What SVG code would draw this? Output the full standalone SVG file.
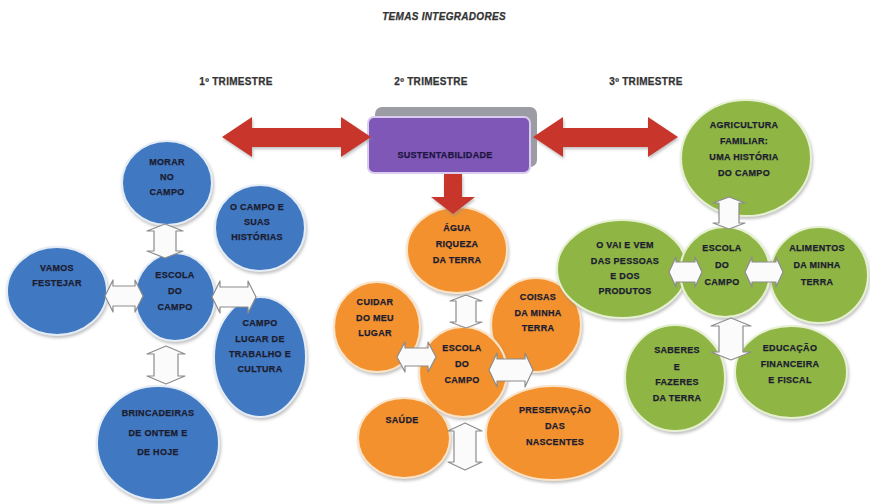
<svg xmlns="http://www.w3.org/2000/svg" width="870" height="504" viewBox="0 0 870 504">
<defs>
<filter id="sh" x="-20%" y="-20%" width="140%" height="140%">
<feDropShadow dx="1" dy="2" stdDeviation="1.5" flood-color="#8a8a8a" flood-opacity="0.55"/>
</filter>
<style>
text{font-family:"Liberation Sans",Arial,sans-serif;font-weight:bold;font-size:9px;letter-spacing:0.3px;fill:#1c1c30;stroke:#1c1c30;stroke-width:0.25;text-anchor:middle}
.ttl{font-size:10px;font-style:italic;fill:#333;stroke:#333}
.tri{font-size:10px;fill:#333;stroke:#333}
.blue{fill:#3f78c1;stroke:#e4ecf6;stroke-width:2;filter:url(#sh)}
.orange{fill:#f2912e;stroke:#fbe3c8;stroke-width:2;filter:url(#sh)}
.green{fill:#8fb544;stroke:#e6f0d2;stroke-width:2;filter:url(#sh)}
.red{fill:#c8342c;filter:url(#sh)}
.hollow{fill:#fbfbfb;stroke:#8c8c8c;stroke-width:1.2;stroke-linejoin:round}
</style>
</defs>
<rect width="870" height="504" fill="#ffffff"/>
<text class="ttl" x="444" y="20">TEMAS INTEGRADORES</text>
<text class="tri" x="236" y="85">1º TRIMESTRE</text>
<text class="tri" x="431" y="85">2º TRIMESTRE</text>
<text class="tri" x="646" y="85">3º TRIMESTRE</text>

<g id="sustentabilidade">
<rect x="375" y="107" width="162" height="60" rx="7" fill="#9c9ca4"/>
<rect x="368" y="117" width="162" height="56" rx="6" fill="#7f58b7" stroke="#d9ccee" stroke-width="2"/>
<text x="445" y="158" style="fill:#1e1440;stroke:#1e1440">SUSTENTABILIDADE</text>
</g>

<g id="blue-nodes">
<g id="morar"><ellipse class="blue" cx="167" cy="183" rx="45" ry="42"/><text x="167" y="165">MORAR</text><text x="167" y="180">NO</text><text x="167" y="195">CAMPO</text></g>
<g id="campo-historias"><ellipse class="blue" cx="260" cy="228" rx="45" ry="43"/><text x="257" y="210">O CAMPO E</text><text x="257" y="225">SUAS</text><text x="257" y="240">HISTÓRIAS</text></g>
<g id="vamos"><ellipse class="blue" cx="57" cy="291" rx="50" ry="44"/><text x="57" y="271">VAMOS</text><text x="57" y="286">FESTEJAR</text></g>
<g id="campo-lugar"><ellipse class="blue" cx="260" cy="357" rx="46" ry="60"/><text x="260" y="326">CAMPO</text><text x="260" y="342">LUGAR DE</text><text x="260" y="357">TRABALHO E</text><text x="260" y="372">CULTURA</text></g>
<g id="brincadeiras"><ellipse class="blue" cx="158" cy="443" rx="61" ry="57"/><text x="158" y="416">BRINCADEIRAS</text><text x="158" y="436">DE ONTEM E</text><text x="158" y="455">DE HOJE</text></g>
<g id="escola-blue"><ellipse class="blue" cx="175" cy="297" rx="40" ry="44"/><text x="175" y="278">ESCOLA</text><text x="175" y="294">DO</text><text x="175" y="310">CAMPO</text></g>
</g>

<g id="orange-nodes">
<g id="agua"><ellipse class="orange" cx="457" cy="250" rx="50" ry="43"/><text x="457" y="231">ÁGUA</text><text x="457" y="247">RIQUEZA</text><text x="457" y="263">DA TERRA</text></g>
<g id="cuidar"><ellipse class="orange" cx="377" cy="327" rx="43" ry="45"/><text x="375" y="305">CUIDAR</text><text x="375" y="321">DO MEU</text><text x="375" y="336">LUGAR</text></g>
<g id="coisas"><ellipse class="orange" cx="536" cy="325" rx="45" ry="47"/><text x="538" y="300">COISAS</text><text x="538" y="316">DA MINHA</text><text x="538" y="331">TERRA</text></g>
<g id="saude"><ellipse class="orange" cx="404" cy="438" rx="46" ry="40"/><text x="402" y="423">SAÚDE</text></g>
<g id="preservacao"><ellipse class="orange" cx="553" cy="433" rx="67" ry="47"/><text x="555" y="413">PRESERVAÇÃO</text><text x="555" y="429">DAS</text><text x="555" y="445">NASCENTES</text></g>
<g id="escola-orange"><ellipse class="orange" cx="463" cy="372" rx="44" ry="45"/><text x="462" y="351">ESCOLA</text><text x="462" y="367">DO</text><text x="462" y="383">CAMPO</text></g>
</g>

<g id="green-nodes">
<g id="agricultura"><ellipse class="green" cx="746" cy="158" rx="65" ry="58"/><text x="744" y="128">AGRICULTURA</text><text x="744" y="144">FAMILIAR:</text><text x="744" y="160">UMA HISTÓRIA</text><text x="744" y="176">DO CAMPO</text></g>
<g id="vai-e-vem"><ellipse class="green" cx="622" cy="269" rx="65" ry="49"/><text x="625" y="248">O VAI E VEM</text><text x="625" y="264">DAS PESSOAS</text><text x="625" y="279">E DOS</text><text x="625" y="294">PRODUTOS</text></g>
<g id="alimentos"><ellipse class="green" cx="819" cy="275" rx="49" ry="48"/><text x="817" y="251">ALIMENTOS</text><text x="817" y="268">DA MINHA</text><text x="817" y="285">TERRA</text></g>
<g id="saberes"><ellipse class="green" cx="675" cy="378" rx="50" ry="53"/><text x="677" y="353">SABERES</text><text x="677" y="370">E</text><text x="677" y="385">FAZERES</text><text x="677" y="401">DA TERRA</text></g>
<g id="educacao"><ellipse class="green" cx="791" cy="372" rx="56" ry="46"/><text x="790" y="351">EDUCAÇÃO</text><text x="790" y="367">FINANCEIRA</text><text x="790" y="383">E FISCAL</text></g>
<g id="escola-green"><ellipse class="green" cx="725" cy="272" rx="45" ry="45"/><text x="722" y="251">ESCOLA</text><text x="722" y="268">DO</text><text x="722" y="285">CAMPO</text></g>
</g>

<g id="connectors">
<polygon class="red" points="222,137 252,117 252,128 341,128 341,117 371,137 341,157 341,147 252,147 252,157"/>
<polygon class="red" points="533,137 563,117 563,128 648,128 648,117 678,137 648,157 648,147 563,147 563,157"/>
<polygon class="red" points="444,174 462,174 462,197 475,197 453,214 431,197 444,197"/>
<polygon class="hollow" points="165,224 183,231 176,231 176,251 183,251 165,258 147,251 154,251 154,231 147,231"/>
<polygon class="hollow" points="105,296 113,280 113,286 135,286 135,280 143,296 135,312 135,306 113,306 113,312"/>
<polygon class="hollow" points="212,297 220,281 220,287 248,287 248,281 256,297 248,313 248,307 220,307 220,313"/>
<polygon class="hollow" points="166,346 185,354 178,354 178,376 185,376 166,384 147,376 154,376 154,354 147,354"/>
<polygon class="hollow" points="466,295 482,301 476,301 476,322 482,322 466,328 450,322 456,322 456,301 450,301"/>
<polygon class="hollow" points="397,357 405,342 405,348 428,348 428,342 436,357 428,372 428,366 405,366 405,372"/>
<polygon class="hollow" points="489,370 497,353 497,359 525,359 525,353 533,370 525,387 525,381 497,381 497,387"/>
<polygon class="hollow" points="465,423 482,431 476,431 476,462 482,462 465,470 448,462 454,462 454,431 448,431"/>
<polygon class="hollow" points="729,197 745,203 739,203 739,223 745,223 729,229 713,223 719,223 719,203 713,203"/>
<polygon class="hollow" points="669,272 676,257 676,262 695,262 695,257 702,272 695,287 695,282 676,282 676,287"/>
<polygon class="hollow" points="745,272 752,257 752,262 776,262 776,257 783,272 776,287 776,282 752,282 752,287"/>
<polygon class="hollow" points="731,318 751,326 743,326 743,352 751,352 731,360 711,352 719,352 719,326 711,326"/>
</g>
</svg>
